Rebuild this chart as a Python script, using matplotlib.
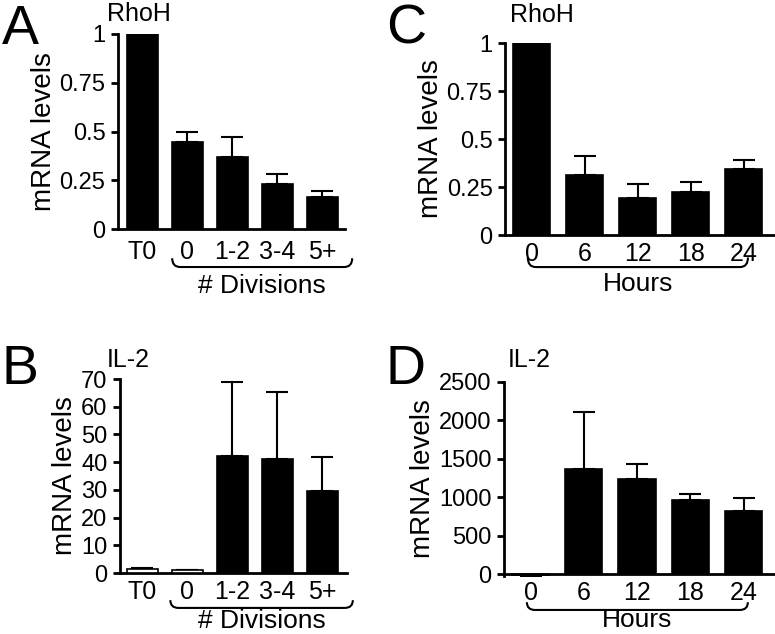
import matplotlib
matplotlib.use("Agg")
import matplotlib.pyplot as plt
import numpy as np
from matplotlib.path import Path
from matplotlib.patches import PathPatch
import matplotlib.transforms as mtransforms

plt.rcParams['font.family'] = ['Liberation Sans', 'DejaVu Sans']
plt.rcParams['font.size'] = 17

# data
div_labels = ['T0', '0', '1-2', '3-4', '5+']
rhoh_div = [1.0, 0.445, 0.367, 0.23, 0.164]
rhoh_div_err = [0.0, 0.054, 0.106, 0.05, 0.032]
il2_div = [1.3, 1.0, 42.3, 41.0, 29.6]
il2_div_err = [0.6, 0.0, 26.5, 24.4, 12.3]
il2_div_fill = ['white', 'white', 'black', 'black', 'black']

hour_labels = ['0', '6', '12', '18', '24']
rhoh_hr = [1.0, 0.312, 0.191, 0.224, 0.344]
rhoh_hr_err = [0.0, 0.101, 0.076, 0.05, 0.046]
il2_hr = [-25, 1366, 1237, 958, 816]
il2_hr_err = [0, 744, 202, 82, 172]

fig = plt.figure(figsize=(7.75, 6.34), dpi=100)
W, H = 775.0, 634.0


def make_ax(left, right, top, bottom):
    return fig.add_axes([left / W, 1 - bottom / H, (right - left) / W, (bottom - top) / H])


def style(ax, xpad):
    for s in ['top', 'right']:
        ax.spines[s].set_visible(False)
    for s in ['left', 'bottom']:
        ax.spines[s].set_linewidth(2)
    ax.tick_params(axis='y', direction='out', length=5, width=2, pad=4, labelsize=17)
    ax.tick_params(axis='x', length=0, pad=xpad, labelsize=18)


def brace(ax, x0, x1, y, h=0.05, r=0.18, text='', ty=-0.33):
    tr = mtransforms.blended_transform_factory(ax.transData, ax.transAxes)
    verts = [(x0, y + h), (x0, y), (x0 + r, y), (x1 - r, y), (x1, y), (x1, y + h)]
    codes = [Path.MOVETO, Path.CURVE3, Path.CURVE3, Path.LINETO, Path.CURVE3, Path.CURVE3]
    ax.add_patch(PathPatch(Path(verts, codes), transform=tr, fill=False, lw=1.5,
                           color='black', clip_on=False))
    ax.text((x0 + x1) / 2, ty, text, transform=tr, ha='center', va='baseline', fontsize=19)


def bars(ax, vals, errs, width, colors='black'):
    x = np.arange(len(vals))
    ax.bar(x, vals, width=width, color=colors, edgecolor='black', linewidth=1.2, zorder=3)
    ax.errorbar(x, vals, yerr=[np.zeros(len(errs)), errs], fmt='none', ecolor='black',
                elinewidth=1.5, capsize=8, capthick=1.5, zorder=1)
    return x


# Panel A
axA = make_ax(118, 345, 34, 229)
x = bars(axA, rhoh_div, rhoh_div_err, 0.69)
axA.set_xlim(-0.544, 4.5)
axA.set_ylim(0, 1)
axA.set_yticks([0, 0.25, 0.5, 0.75, 1])
axA.set_yticklabels(['0', '0.25', '0.5', '0.75', '1'])
axA.set_xticks(x)
axA.set_xticklabels(div_labels)
axA.set_ylabel('mRNA levels', fontsize=20, labelpad=2)
style(axA, 8)
brace(axA, 0.66, 4.66, -0.195, h=0.045, r=0.18, text='# Divisions', ty=-0.33)

# Panel B
axB = make_ax(120, 347, 379, 573)
x = bars(axB, il2_div, il2_div_err, 0.69, colors=il2_div_fill)
axB.set_xlim(-0.5, 4.55)
axB.set_ylim(0, 70)
axB.set_yticks(np.arange(0, 71, 10))
axB.set_xticks(x)
axB.set_xticklabels(div_labels)
axB.set_ylabel('mRNA levels', fontsize=20, labelpad=2)
style(axB, 5)
brace(axB, 0.62, 4.68, -0.18, h=0.04, r=0.18, text='# Divisions', ty=-0.285)

# Panel C
axC = make_ax(505, 775, 43, 235)
x = bars(axC, rhoh_hr, rhoh_hr_err, 0.70)
axC.set_xlim(-0.5, 4.59)
axC.set_ylim(0, 1)
axC.set_yticks([0, 0.25, 0.5, 0.75, 1])
axC.set_yticklabels(['0', '0.25', '0.5', '0.75', '1'])
axC.set_xticks(x)
axC.set_xticklabels(hour_labels)
axC.set_ylabel('mRNA levels', fontsize=20, labelpad=2)
style(axC, 5)
brace(axC, -0.07, 4.08, -0.167, h=0.05, r=0.15, text='Hours', ty=-0.29)

# Panel D
axD = make_ax(504, 775, 382, 576)
x = bars(axD, il2_hr, il2_hr_err, 0.70)
axD.set_xlim(-0.5, 4.59)
axD.set_ylim(-25, 2500)
axD.spines['bottom'].set_position(('data', 0))
axD.set_yticks(np.arange(0, 2501, 500))
axD.set_xticks(x)
axD.set_xticklabels(hour_labels)
axD.set_ylabel('mRNA levels', fontsize=20, labelpad=2)
style(axD, 5)
brace(axD, -0.07, 4.08, -0.175, h=0.04, r=0.15, text='Hours', ty=-0.265)

# titles and panel letters
fig.text(107 / W, 1 - 21 / H, 'RhoH', fontsize=18, va='baseline')
fig.text(510 / W, 1 - 22 / H, 'RhoH', fontsize=18, va='baseline')
fig.text(107 / W, 1 - 367 / H, 'IL-2', fontsize=18, va='baseline')
fig.text(508 / W, 1 - 367 / H, 'IL-2', fontsize=18, va='baseline')
for lx, ly, lt in [(2, 44, 'A'), (386, 44, 'C'), (2, 384, 'B'), (386, 384, 'D')]:
    fig.text(lx / W, 1 - ly / H, lt, fontsize=40, va='baseline')

fig.savefig('out.png', dpi=100)
